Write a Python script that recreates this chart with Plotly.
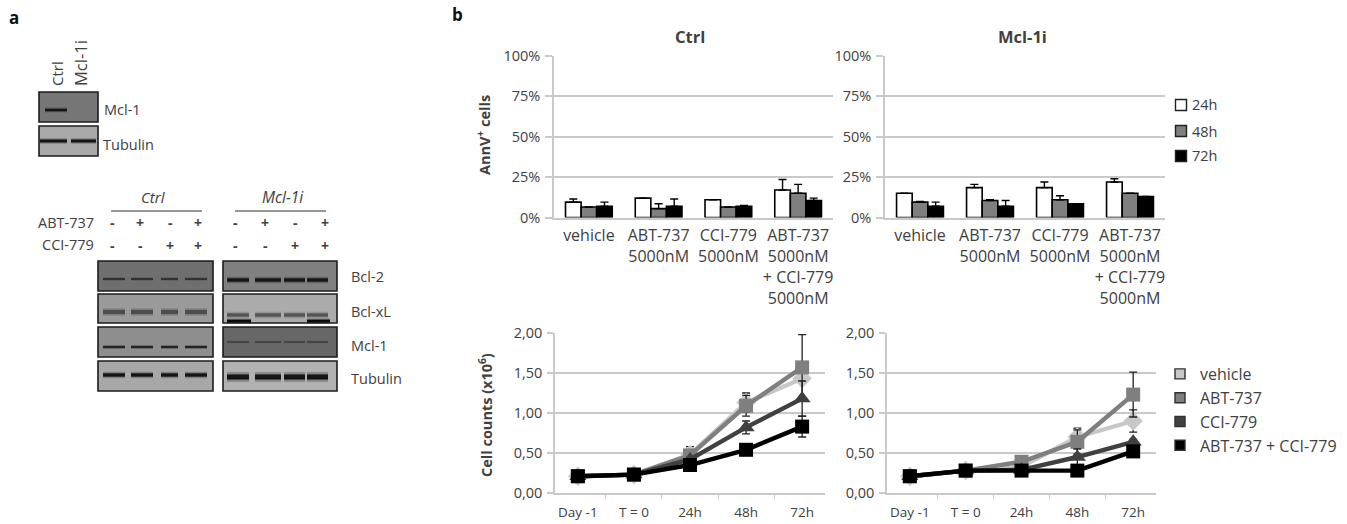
import plotly.graph_objects as go

W, H = 1347, 524
FONT = "Open Sans"
TXT = "#404040"
GRID = "#c9c9c9"

# ---------- data ----------
bar_cats = ["vehicle", "ABT-737<br>5000nM", "CCI-779<br>5000nM",
            "ABT-737<br>5000nM<br>+ CCI-779<br>5000nM"]
bar_series = ["24h", "48h", "72h"]
ctrl_24 = [9.5, 12, 11, 17]
ctrl_48 = [6.5, 5.5, 6.5, 15]
ctrl_72 = [7, 7, 7, 10.5]
ctrl_24_err = [2, 0, 0, 6.5]
ctrl_48_err = [0, 3, 0, 5.5]
ctrl_72_err = [2.5, 4.5, 0.5, 1.5]
mcl_24 = [15, 18.5, 18.5, 22]
mcl_48 = [9.5, 10.5, 11, 15]
mcl_72 = [7, 7, 8.5, 13]
mcl_24_err = [0, 2, 3.5, 2]
mcl_48_err = [0.5, 0.5, 2.5, 0]
mcl_72_err = [2.5, 3.5, 0, 0]

times = ["Day -1", "T = 0", "24h", "48h", "72h"]
line_series = ["vehicle", "ABT-737", "CCI-779", "ABT-737 + CCI-779"]
c_vehicle = [0.21, 0.23, 0.48, 1.13, 1.43]
c_abt = [0.21, 0.23, 0.47, 1.09, 1.57]
c_cci = [0.21, 0.23, 0.42, 0.82, 1.18]
c_combo = [0.21, 0.23, 0.35, 0.54, 0.83]
c_vehicle_err = [0, 0, 0.10, 0.12, 0]
c_abt_err = [0, 0, 0, 0.13, 0.41]
c_cci_err = [0, 0, 0, 0.08, 0.22]
c_combo_err = [0, 0, 0, 0, 0.13]
m_vehicle = [0.21, 0.28, 0.33, 0.70, 0.90]
m_abt = [0.21, 0.28, 0.39, 0.64, 1.23]
m_cci = [0.21, 0.28, 0.29, 0.45, 0.64]
m_combo = [0.21, 0.28, 0.28, 0.28, 0.52]
m_vehicle_err = [0, 0, 0, 0.11, 0.14]
m_abt_err = [0, 0, 0, 0.15, 0.28]
m_cci_err = [0, 0, 0, 0.10, 0.03]
m_combo_err = [0, 0, 0, 0, 0]

blot_labels = ["Bcl-2", "Bcl-xL", "Mcl-1", "Tubulin"]
abt_signs = ["-", "+", "-", "+"]
cci_signs = ["-", "-", "+", "+"]


def px(x):
    return x / W


def py(y):
    return 1 - y / H


fig = go.Figure()

# ---------- bars ----------
bar_fill = ["#ffffff", "#7f7f7f", "#000000"]


def add_bars(vals, errs, xa, ya):
    for i, (name, v, e) in enumerate(zip(bar_series, vals, errs)):
        fig.add_trace(go.Bar(
            x=bar_cats, y=v, name=name, xaxis=xa, yaxis=ya, showlegend=False,
            marker=dict(color=bar_fill[i], line=dict(color="#000000", width=1.6)),
            error_y=dict(type="data", symmetric=False, array=e, arrayminus=[0] * 4,
                         color="#000000", thickness=1.4, width=4),
        ))


add_bars([ctrl_24, ctrl_48, ctrl_72], [ctrl_24_err, ctrl_48_err, ctrl_72_err], "x", "y")
add_bars([mcl_24, mcl_48, mcl_72], [mcl_24_err, mcl_48_err, mcl_72_err], "x2", "y2")

# ---------- lines ----------
line_col = ["#c8c8c8", "#7f7f7f", "#404040", "#000000"]
line_sym = ["diamond", "square", "triangle-up", "square"]
line_size = [15, 14, 15, 14]


def add_lines(vals, errs, xa, ya):
    for i, (name, v, e) in enumerate(zip(line_series, vals, errs)):
        fig.add_trace(go.Scatter(
            x=times, y=v, name=name, xaxis=xa, yaxis=ya, mode="lines+markers",
            showlegend=False, cliponaxis=False,
            line=dict(color=line_col[i], width=4.4),
            marker=dict(color=line_col[i], symbol=line_sym[i], size=line_size[i]),
            error_y=dict(type="data", array=e, color="#202020", thickness=1.3, width=4),
        ))


add_lines([c_vehicle, c_abt, c_cci, c_combo],
          [c_vehicle_err, c_abt_err, c_cci_err, c_combo_err], "x3", "y3")
add_lines([m_vehicle, m_abt, m_cci, m_combo],
          [m_vehicle_err, m_abt_err, m_cci_err, m_combo_err], "x4", "y4")

for i, name in enumerate(line_series):
    fig.add_trace(go.Scatter(
        x=[None], y=[None], name=name, mode="markers", xaxis="x3", yaxis="y3",
        showlegend=True,
        marker=dict(color=line_col[i], symbol="square", size=10,
                    line=dict(color="#303030", width=1.4)),
    ))

# ---------- western blot panels (picture part of the figure) ----------
shapes, notes = [], []


def panel(x0, x1, y0, y1, fill):
    shapes.append(dict(type="rect", xref="paper", yref="paper", layer="below",
                       x0=px(x0), x1=px(x1), y0=py(y0), y1=py(y1), fillcolor=fill,
                       line=dict(color="#1c1c1c", width=1.6)))


def band(x0, x1, y, w, col="#151515"):
    for k, op in ((2.2, 0.22), (1.4, 0.4), (1.0, 1.0)):
        shapes.append(dict(type="line", xref="paper", yref="paper",
                           x0=px(x0), x1=px(x1), y0=py(y), y1=py(y), opacity=op,
                           line=dict(color=col, width=w * k)))


def bands(lanes, y, w, col="#151515"):
    for a, b in lanes:
        band(a, b, y, w, col)


panel(39, 98, 92, 122, "#767676")
band(45, 67, 110, 2.2)
panel(39, 98, 126, 156, "#a9a9a9")
bands([(40, 67), (71, 96)], 141, 2.6)

ctrl_lanes = [(103, 125), (131, 153), (161, 178), (185, 207)]
mcl_lanes = [(227, 249), (255, 281), (284, 305), (307, 328)]
rows = [(261, 291), (294, 323), (327, 357), (361, 391)]
ctrl_fill = ["#6f6f6f", "#9a9a9a", "#8e8e8e", "#a8a8a8"]
mcl_fill = ["#808080", "#ababab", "#676767", "#b2b2b2"]
for (y0, y1), cf, mf in zip(rows, ctrl_fill, mcl_fill):
    panel(98, 213, y0, y1, cf)
    panel(223, 337, y0, y1, mf)

bands(ctrl_lanes, 279, 1.5, "#2a2a2a")
bands(ctrl_lanes, 312, 3.6, "#4a4a4a")
bands(ctrl_lanes, 347, 1.8, "#202020")
bands(ctrl_lanes, 375, 3.0)
bands(mcl_lanes, 280, 3.0)
bands(mcl_lanes, 315, 3.0, "#555555")
bands([(227, 251), (307, 330)], 321, 2.4, "#0a0a0a")
bands(mcl_lanes, 342, 1.1, "#3c3c3c")
bands(mcl_lanes, 377, 4.6)

for a, b in ((111, 202), (235, 326)):
    shapes.append(dict(type="line", xref="paper", yref="paper", x0=px(a), x1=px(b),
                       y0=py(211), y1=py(211), line=dict(color="#303030", width=1.2)))


def text(x, y, s, size=13, anchor="left", bold=False, italic=False, angle=0, color=TXT):
    if bold:
        s = "<b>" + s + "</b>"
    if italic:
        s = "<i>" + s + "</i>"
    notes.append(dict(x=px(x), y=py(y), xref="paper", yref="paper", text=s, showarrow=False,
                      xanchor=anchor, yanchor="middle", textangle=angle,
                      font=dict(family=FONT, size=size, color=color)))


text(14, 17, "a", 17, "center", bold=True, color="#111111")
text(458, 15, "b", 17, "center", bold=True, color="#111111")
text(57, 74, "Ctrl", 15, "center", angle=-90)
text(80, 63, "Mcl-1i", 16.5, "center", angle=-90)
text(102, 110, "Mcl-1", 14.5)
text(101, 144, "Tubulin", 14.5)
text(153, 197, "Ctrl", 15, "center", italic=True)
text(283, 197, "Mcl-1i", 15.5, "center", italic=True)
text(96, 222, "ABT-737", 14.5, "right")
text(96, 244, "CCI-779", 14.5, "right")
sign_x = [112, 140, 170, 198, 236, 265, 295, 325]
for sx, s in zip(sign_x, abt_signs + abt_signs):
    text(sx, 222, s, 14, "center", bold=True)
for sx, s in zip(sign_x, cci_signs + cci_signs):
    text(sx, 245, s, 14, "center", bold=True)
for yy, lab in zip((276, 311, 345, 378), blot_labels):
    text(349, yy, lab, 14.5)
text(690, 36, "Ctrl", 16.5, "center", bold=True)
text(1022, 36, "Mcl-1i", 16.5, "center", bold=True)
text(483, 135, "AnnV<sup>+</sup> cells", 14.5, "center", bold=True, angle=-90)
text(485, 415, "Cell counts (x10<sup>6</sup>)", 14.5, "center", bold=True, angle=-90)

# time-point key of the bar panels
for name, fill, yy in zip(bar_series, bar_fill, (105, 131, 156)):
    shapes.append(dict(type="rect", xref="paper", yref="paper", x0=px(1175.5), x1=px(1186.5),
                       y0=py(yy - 5.5), y1=py(yy + 5.5), fillcolor=fill,
                       line=dict(color="#202020", width=1.4)))
    text(1189.5, yy, name, 14.5)


# ---------- axes ----------
def xdom(a, b):
    return [px(a), px(b)]


def ydom(top, bottom):
    return [py(bottom), py(top)]


bar_x = dict(type="category", showgrid=False, showline=True, linecolor=GRID, linewidth=1.5,
             ticks="", tickangle=0, ticklabelstandoff=3,
             tickfont=dict(family=FONT, size=16, color=TXT))
bar_y = dict(range=[0, 100], tick0=0, dtick=25, ticksuffix="%", showgrid=True, gridcolor=GRID,
             gridwidth=1.5, showline=True, linecolor=GRID, linewidth=1.5, ticks="outside",
             ticklen=7, tickwidth=1.5, tickcolor=GRID, zeroline=False, ticklabelstandoff=2,
             tickfont=dict(family=FONT, size=14.5, color=TXT))
line_x = dict(type="category", showgrid=False, showline=True, linecolor=GRID, linewidth=1.5,
              ticks="outside", tickson="boundaries", ticklen=4, tickwidth=1.2, tickcolor=GRID,
              tickangle=0, ticklabelstandoff=6, tickfont=dict(family=FONT, size=13.5, color=TXT))
line_y = dict(range=[0, 2], tick0=0, dtick=0.5, tickformat=".2f", showgrid=True, gridcolor=GRID,
              gridwidth=1.5, showline=True, linecolor=GRID, linewidth=1.5, ticks="outside",
              ticklen=6, tickwidth=1.5, tickcolor=GRID, zeroline=False, ticklabelstandoff=2,
              tickfont=dict(family=FONT, size=14.5, color=TXT))

fig.update_layout(
    width=W, height=H, margin=dict(l=0, r=0, t=0, b=0, autoexpand=False),
    paper_bgcolor="white", plot_bgcolor="white", separators=",.",
    barmode="group", bargap=0.33, bargroupgap=0,
    font=dict(family=FONT, color=TXT),
    xaxis=dict(bar_x, domain=xdom(554, 833), anchor="y"),
    yaxis=dict(bar_y, domain=ydom(56, 217.5), anchor="x"),
    xaxis2=dict(bar_x, domain=xdom(885, 1165), anchor="y2"),
    yaxis2=dict(bar_y, domain=ydom(56, 217.5), anchor="x2"),
    xaxis3=dict(line_x, domain=xdom(555, 825), anchor="y3"),
    yaxis3=dict(line_y, domain=ydom(333, 493), anchor="x3"),
    xaxis4=dict(line_x, domain=xdom(887, 1156), anchor="y4"),
    yaxis4=dict(line_y, domain=ydom(333, 493), anchor="x4"),
    legend=dict(x=px(1160), y=py(357), xanchor="left", yanchor="top", bgcolor="rgba(0,0,0,0)",
                font=dict(family=FONT, size=16, color=TXT), traceorder="normal"),
    shapes=shapes, annotations=notes,
)

fig.write_html("out.html", config=dict(displayModeBar=False),
               post_script="document.body.style.margin='0';document.body.style.overflow='hidden';")
